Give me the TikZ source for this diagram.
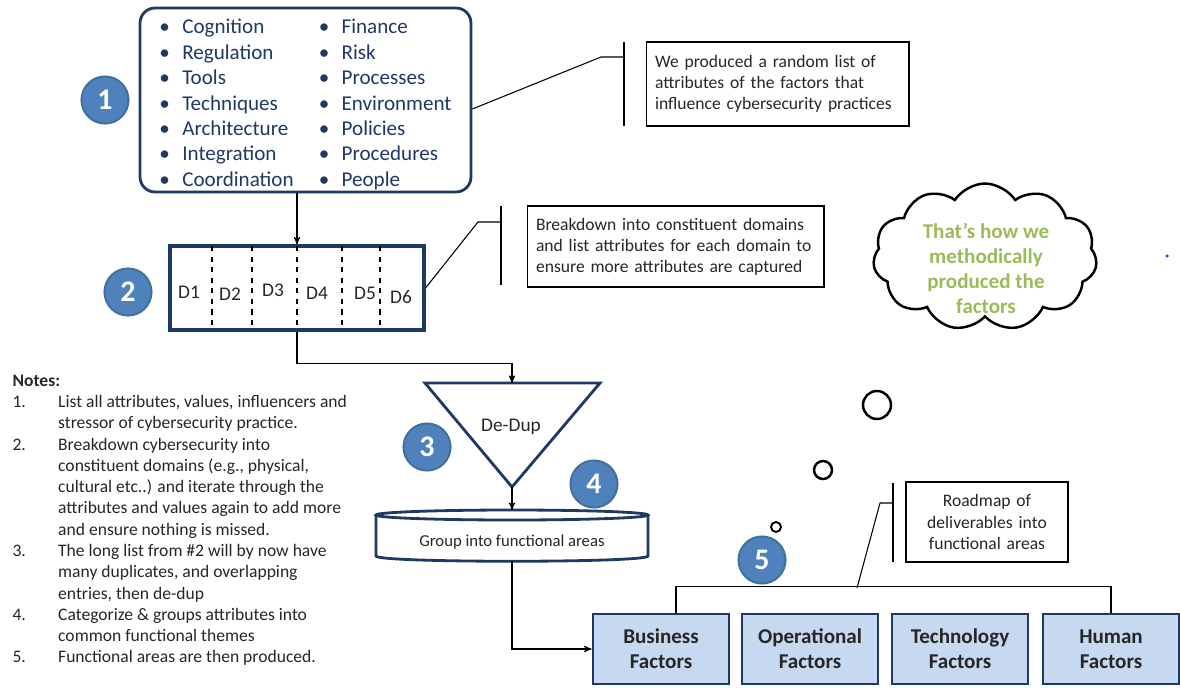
\documentclass[tikz,border=0pt]{standalone}
\usepackage{fontspec}
\setmainfont{Carlito}
\usepackage{tikz}
\usetikzlibrary{arrows, shapes.symbols, positioning}
\definecolor{navy}{HTML}{1F3864}
\definecolor{dotblue}{HTML}{4F81BD}
\definecolor{dotedge}{HTML}{41719C}
\definecolor{factfill}{HTML}{C6D9F1}
\definecolor{cloudgreen}{HTML}{9BBB59}
\definecolor{txtgray}{HTML}{262626}
\newcommand{\itm}[1]{\makebox[13pt][l]{\textbullet}#1}

\begin{document}
\begin{tikzpicture}[x=0.02cm, y=-0.02cm, >=stealth', line width=0.6pt,
  numdot/.style={circle, fill=dotblue, draw=dotedge, line width=1.2pt, minimum size=0.94cm, inner sep=0pt, text=white, font=\fontsize{17}{17}\selectfont\bfseries},
  listbox/.style={draw=navy, line width=1.6pt, rounded corners=0.3cm, minimum width=6.62cm, minimum height=3.68cm, inner sep=0pt, text=navy, font=\fontsize{12}{14.5}\selectfont},
  note/.style={draw, line width=0.6pt, inner xsep=0.18cm, inner ysep=0pt, align=left, text=txtgray, font=\fontsize{10}{12}\selectfont},
  factor/.style={draw=navy, fill=factfill, line width=1.6pt, minimum width=2.72cm, minimum height=1.4cm, align=center, text=txtgray, font=\fontsize{12}{14.2}\selectfont\bfseries},
  bar/.style={line width=0.9pt},
  bubble/.style={circle, draw, line width=1.4pt, inner sep=0pt},
  dom/.style={text=txtgray, font=\fontsize{11}{13}\selectfont}]
\useasboundingbox (0,0) rectangle (1180,687);

% step 1: the attribute list
\node[listbox] (attr) at (305.5,100) {\raisebox{-2.8pt}[\height][\depth]{\begin{tabular}{@{}p{90.7pt}@{}l@{}}
\itm{Cognition} & \itm{Finance}\\
\itm{Regulation} & \itm{Risk}\\
\itm{Tools} & \itm{Processes}\\
\itm{Techniques} & \itm{Environment}\\
\itm{Architecture} & \itm{Policies}\\
\itm{Integration} & \itm{Procedures}\\
\itm{Coordination} & \itm{People}
\end{tabular}}};
\node[numdot] (n1) at (105,100) {1};

\node[note, text width=4.9cm, minimum height=1.68cm] (t1) at (777.5,84) {We produced a random list of\\attributes of the factors that\\influence cybersecurity practices};
\draw[bar] (624,42) -- (624,126);
\coordinate (k1) at (624,57);
\draw (attr.east) ++(0,9) -- (601,57) -- (k1);

% step 2: domains
\node[draw=navy, line width=1.8pt, minimum width=5.08cm, minimum height=1.68cm] (dom) at (297,288) {};
\draw[dashed] (212,246) -- (212,330);
\draw[dashed] (252,246) -- (252,330);
\draw[dashed] (297,246) -- (297,330);
\draw[dashed] (342,246) -- (342,330);
\draw[dashed] (380,246) -- (380,330);
\node[dom] (d1) at (189,292) {D1};
\node[dom] (d2) at (230,294) {D2};
\node[dom] (d3) at (273,290) {D3};
\node[dom] (d4) at (317,293) {D4};
\node[dom] (d5) at (365,293) {D5};
\node[dom] (d6) at (401,297) {D6};
\node[numdot] (n2) at (128,292) {2};
\draw[->] (attr.south -| dom.north) -- (dom.north);

\node[note, text width=5.58cm, minimum height=1.62cm] (t2) at (675.5,246.5) {Breakdown into constituent domains\\and list attributes for each domain to\\ensure more attributes are captured};
\draw[bar] (501,206) -- (501,285);
\coordinate (k2) at (501,222);
\draw (dom.east) -- (478,222) -- (k2);

% step 3: de-dup funnel
\coordinate (fl) at (425,383);
\coordinate (fr) at (600,383);
\coordinate (ftop) at (512,383);
\coordinate (fapex) at (512,487);
\draw[navy, line width=1.6pt] (fl) -- (fr) -- (fapex) -- cycle;
\node[dom] (dedup) at (511,427) {De-Dup};
\node[numdot] (n3) at (427,447) {3};
\draw[->] (dom.south) -- ++(0,32) -| (ftop);

% step 4: grouping
\coordinate (gtop) at (512,510);
\coordinate (gbot) at (512,561);
\draw[navy, line width=1.6pt] (376,515) -- (376,556) .. controls (376,563) and (648,563) .. (648,556) -- (648,515);
\draw[navy, line width=1.6pt] (512,515) ellipse [x radius=2.72cm, y radius=0.1cm];
\node[text=txtgray, font=\fontsize{9.5}{11}\selectfont] (grp) at (512,542) {Group into functional areas};
\node[numdot] (n4) at (594,484) {4};
\draw[->] (fapex) -- (gtop);

% step 5: functional areas
\node[factor] (bus) at (661,649) {Business\\Factors};
\node[factor] (ops) at (810,649) {Operational\\Factors};
\node[factor] (tech) at (960,649) {Technology\\Factors};
\node[factor] (hum) at (1111,649) {Human\\Factors};
\node[numdot] (n5) at (762,560) {5};
\draw[->] (gbot) |- (bus.west);
\draw (bus.north) ++(15,0) -- ++(0,-26) -| (hum.north);

\node[note, text width=2.88cm, minimum height=1.6cm, align=center] (t3) at (987,522) {Roadmap of\\deliverables into\\functional areas};
\draw[bar] (893,483) -- (893,562);
\coordinate (k3) at (893,503);
\coordinate (brk) at (857,588);
\draw (brk) -- (880,503) -- (k3);

% thought cloud
\node[cloud, draw, line width=1.4pt, cloud puffs=11, cloud puff arc=115, aspect=1.5, minimum width=4.48cm, minimum height=2.94cm] (cloud) at (985,257) {};
\node[text=cloudgreen, align=center, font=\fontsize{12}{14.2}\selectfont\bfseries] (cloudtxt) at (986,268) {That’s how we\\methodically\\produced the\\factors};
\node[bubble, minimum size=0.56cm] (b1) at (877,405) {};
\node[bubble, minimum size=0.36cm] (b2) at (823,470) {};
\node[bubble, line width=1.1pt, minimum size=0.2cm] (b3) at (776,527) {};
\fill[blue!80] (1167,256) circle (1pt);

% notes
\node[anchor=north west, inner sep=0pt, text=txtgray, font=\fontsize{10}{12.1}\selectfont] (notes) at (12,371) {\begin{tabular}{@{}p{26pt}@{}l@{}}
\multicolumn{2}{@{}l@{}}{\bfseries Notes:}\\
1. & List all attributes, values, influencers and\\
 & stressor of cybersecurity practice.\\
2. & Breakdown cybersecurity into\\
 & constituent domains (e.g., physical,\\
 & cultural etc..) and iterate through the\\
 & attributes and values again to add more\\
 & and ensure nothing is missed.\\
3. & The long list from \#2 will by now have\\
 & many duplicates, and overlapping\\
 & entries, then de-dup\\
4. & Categorize \& groups attributes into\\
 & common functional themes\\
5. & Functional areas are then produced.
\end{tabular}};
\end{tikzpicture}
\end{document}
